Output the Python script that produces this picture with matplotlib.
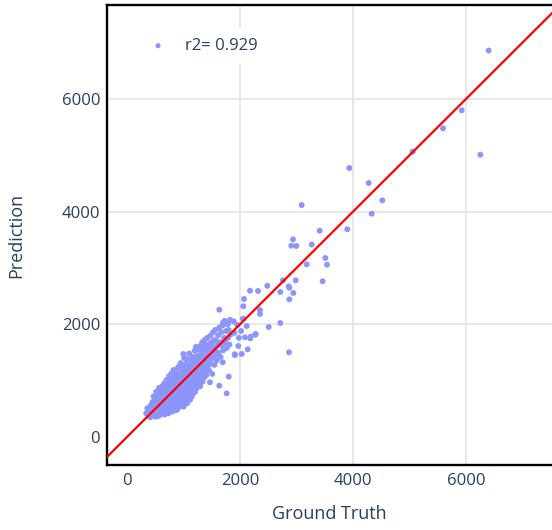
import matplotlib
matplotlib.use('Agg')
import matplotlib.pyplot as plt

# ground truth / prediction pairs
gt_main = [340, 360, 380, 395, 410, 420, 430, 445, 450, 460,
           470, 480, 485, 495, 500, 505, 515, 520, 530, 535, 540, 548, 550,
           555, 560, 565, 570, 578, 582, 590, 595, 600, 605, 612, 618, 622, 628, 635, 640, 645, 650,
           655, 660, 664, 668, 672, 678, 682, 688, 692, 698, 702, 706, 712, 716, 720, 726, 730, 735, 740, 745, 748,
           752, 756, 760, 764, 768, 772, 776, 780, 784, 788, 792, 796, 800, 804, 808, 812, 816, 820, 824, 828, 832, 836, 840, 844, 848,
           852, 856, 860, 864, 868, 872, 876, 880, 884, 888, 892, 896, 900, 904, 908, 912, 916, 920, 924, 928, 932, 936, 940, 944, 948,
           952, 956, 960, 964, 968, 972, 976, 980, 984, 988, 992, 996, 1000, 1004, 1008, 1012, 1016, 1020, 1024, 1028, 1032, 1036, 1040, 1044, 1048,
           1052, 1056, 1060, 1064, 1068, 1072, 1076, 1080, 1084, 1088, 1092, 1096, 1100, 1104, 1108, 1112, 1116, 1120, 1124, 1128, 1132, 1136, 1140, 1144, 1148,
           1152, 1156, 1160, 1164, 1168, 1172, 1176, 1180, 1184, 1188, 1192, 1196, 1200, 1204, 1208, 1212, 1216, 1220, 1224, 1228, 1232, 1236, 1240, 1244, 1248,
           1255, 1260, 1266, 1272, 1278, 1284, 1290, 1296, 1302, 1308, 1314, 1320, 1326, 1332, 1338, 1344, 1350, 1356, 1362, 1368, 1374, 1380, 1386, 1392, 1398,
           1405, 1412, 1420, 1428, 1436, 1444, 1452, 1460, 1468, 1476, 1484, 1492, 1500, 1508, 1516, 1524, 1532, 1540, 1548, 1556, 1564, 1572, 1580, 1588, 1596,
           1610, 1620, 1632, 1644, 1656, 1668, 1680, 1692, 1704, 1716, 1728, 1740, 1752, 1764, 1776, 1788, 1800, 1812, 1824, 1836]
pred_main = [420, 510, 380, 460, 350, 560, 440, 390, 620, 500,
             720, 410, 560, 640, 360, 480, 800, 590, 430, 690, 520, 370, 760,
             610, 450, 870, 540, 700, 390, 650, 820, 480, 560, 740, 420, 900, 610, 520, 680, 790, 450,
             580, 950, 720, 400, 640, 860, 520, 760, 600, 1010, 470, 690, 830, 560, 930, 640, 420, 780, 500, 1080, 700,
             870, 590, 460, 760, 980, 650, 540, 1120, 820, 700, 450, 910, 600, 1040, 760, 520, 880, 680, 1190, 560, 800, 960, 470, 720, 1070,
             620, 870, 1000, 540, 760, 1150, 660, 920, 480, 820, 1060, 590, 740, 1240, 880, 650, 990, 530, 790, 1120, 700, 950, 600, 860, 1310,
             760, 1040, 560, 900, 1170, 680, 820, 1000, 620, 1260, 880, 740, 1080, 540, 960, 1400, 700, 840, 1150, 620, 1020, 780, 1300, 900, 680,
             1090, 820, 1220, 600, 960, 1380, 740, 1050, 880, 1160, 700, 1000, 1480, 820, 1120, 940, 660, 1270, 1060, 780, 1180, 900, 1350, 1010, 720,
             1200, 860, 1090, 1420, 960, 780, 1300, 1140, 1020, 880, 1250, 1530, 1060, 800, 1380, 940, 1160, 1600, 1080, 860, 1290, 1000, 1440, 1180, 920,
             1340, 1080, 1550, 980, 1230, 1420, 1120, 900, 1620, 1300, 1040, 1480, 1200, 1680, 980, 1380, 1140, 1560, 1280, 1060, 1720, 1420, 1200, 1620, 1340,
             1100, 1520, 1760, 1260, 1440, 1640, 1180, 1560, 1380, 1800, 1300, 1680, 1480, 1120, 1600, 1860, 1400, 1720, 1280, 1560, 1900, 1460, 1700, 1360, 1620,
             1800, 1500, 1940, 1680, 1420, 1860, 1620, 1980, 1540, 1760, 2060, 1680, 1880, 1580, 2000, 1760, 1900, 1640, 2080, 1820]

gt_out = [997, 1469, 1634, 1764, 1800, 1694, 1906,
          1699, 1793, 1888, 2119, 2018, 2182, 2278, 2088, 1970, 2136, 2030, 1912, 1634, 2071, 2058, 1900, 1950, 1980, 2050,
          2177, 2319, 2483, 2354, 2354, 2508, 2713, 2271, 2189, 2867, 2761, 2862, 2873, 2944, 2873, 2986, 2713,
          2938, 2908, 2997, 3092, 3180, 3269, 3411, 3463, 3510, 3540, 3899, 3935, 4278, 4331, 4519,
          5057, 5593, 5924, 6254, 6401]
pred_out = [1473, 971, 911, 775, 1071, 1326, 1468,
            2028, 2017, 2053, 1970, 1881, 1751, 1828, 1769, 1615, 1556, 1473, 1455, 2259, 2449, 2320, 1850, 1990, 1760, 2100,
            2596, 2591, 2683, 2254, 2183, 1952, 2023, 1816, 1780, 1503, 2780, 2673, 2650, 2555, 2443, 2780, 2573,
            3507, 3394, 3390, 4117, 3064, 3416, 3661, 2763, 3177, 3058, 3686, 4774, 4508, 3963, 4200,
            5063, 5478, 5798, 5010, 6859]

gt = gt_main + gt_out
pred = pred_main + pred_out
r2 = 0.929

ticks = [0, 2000, 4000, 6000]
textcol = '#2a3f5f'
plt.rcParams['font.family'] = ['Open Sans', 'DejaVu Sans']

fig = plt.figure(figsize=(5.52, 5.30), dpi=100)
ax = fig.add_axes([107/552, 65/530, 445/552, 460/530])

ax.scatter(gt, pred, s=18, color='#8c95fa', edgecolors='none', zorder=2,
           label='r2= %.3f' % r2)
ax.axline((0, 0), slope=1, color='#ff0000', lw=1.6, zorder=3)

ax.set_xlim(-354, 7522)
ax.set_ylim(-497, 7667)
ax.set_xticks(ticks)
ax.set_yticks(ticks)
ax.grid(True, color='#e2e2e2', lw=1.1, zorder=0)
ax.set_axisbelow(True)
ax.get_xgridlines()[0].set_visible(False)
ax.get_ygridlines()[0].set_visible(False)

for s in ['left', 'top', 'bottom']:
    ax.spines[s].set_linewidth(1.7)
    ax.spines[s].set_color('black')
ax.spines['right'].set_visible(False)
ax.tick_params(length=0, labelsize=12, labelcolor=textcol)
ax.tick_params(axis='x', pad=6)
ax.tick_params(axis='y', pad=5)

ax.set_xlabel('Ground Truth', fontsize=13, color=textcol, labelpad=11)
ax.set_ylabel('Prediction', fontsize=13, color=textcol, labelpad=26)

leg = ax.legend(loc='upper left', bbox_to_anchor=(0.036, 0.968), frameon=True,
                fontsize=12, labelcolor=textcol, markerscale=0.85,
                handletextpad=0.6, borderpad=0.6)
leg.get_frame().set_edgecolor('none')
leg.get_frame().set_facecolor('white')
leg.get_frame().set_alpha(1)

fig.savefig('out.png', dpi=100)
